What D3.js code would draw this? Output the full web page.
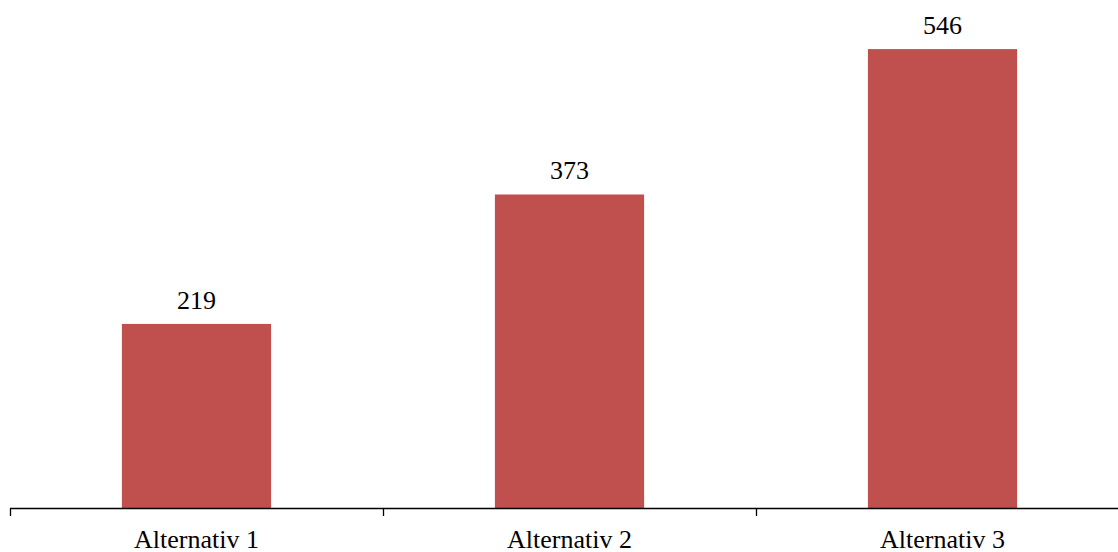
<!DOCTYPE html>
<html>
<head>
<meta charset="utf-8">
<script src="https://cdn.jsdelivr.net/npm/d3@7"></script>
<style>
  html, body { margin: 0; padding: 0; background: #fff; }
  svg { display: block; }
  text { font-family: "Liberation Serif", "Times New Roman", serif; fill: #000; }
</style>
</head>
<body>
<svg id="chart" width="1118" height="552"></svg>
<script>
const categories = ["Alternativ 1", "Alternativ 2", "Alternativ 3"];
const values = [219, 373, 546];

const svg = d3.select("#chart");
const baseY = 508;

const x = d3.scaleBand()
  .domain(categories)
  .range([10, 1129])
  .paddingInner(0)
  .paddingOuter(0);

const y = d3.scaleLinear()
  .domain([0, 600])
  .range([baseY, 3.7]);

const barW = x.bandwidth() * 0.4;

// bars
svg.selectAll("rect.bar")
  .data(values)
  .join("rect")
  .attr("class", "bar")
  .attr("x", (d, i) => x(categories[i]) + (x.bandwidth() - barW) / 2)
  .attr("y", d => y(d))
  .attr("width", barW)
  .attr("height", d => y(0) - y(d))
  .attr("fill", "#C0504D");

// value labels
svg.selectAll("text.val")
  .data(values)
  .join("text")
  .attr("class", "val")
  .attr("x", (d, i) => x(categories[i]) + x.bandwidth() / 2)
  .attr("y", d => y(d) - 15)
  .attr("text-anchor", "middle")
  .style("font-size", "26px")
  .text(d => d);

// category axis: ticks at band boundaries
const axisG = svg.append("g");
axisG.append("line")
  .attr("x1", 10).attr("x2", 1129)
  .attr("y1", baseY + 0.5).attr("y2", baseY + 0.5)
  .attr("stroke", "#000").attr("stroke-width", 1.3);

const boundaries = categories.map(c => x(c)).concat([x(categories[categories.length - 1]) + x.bandwidth()]);
axisG.selectAll("line.tick")
  .data(boundaries)
  .join("line")
  .attr("class", "tick")
  .attr("x1", d => Math.round(d) + 0.5).attr("x2", d => Math.round(d) + 0.5)
  .attr("y1", baseY).attr("y2", baseY + 8)
  .attr("stroke", "#000").attr("stroke-width", 1.3);

axisG.selectAll("text.cat")
  .data(categories)
  .join("text")
  .attr("class", "cat")
  .attr("x", d => x(d) + x.bandwidth() / 2)
  .attr("y", 548)
  .attr("text-anchor", "middle")
  .style("font-size", "26px")
  .text(d => d);
</script>
</body>
</html>
